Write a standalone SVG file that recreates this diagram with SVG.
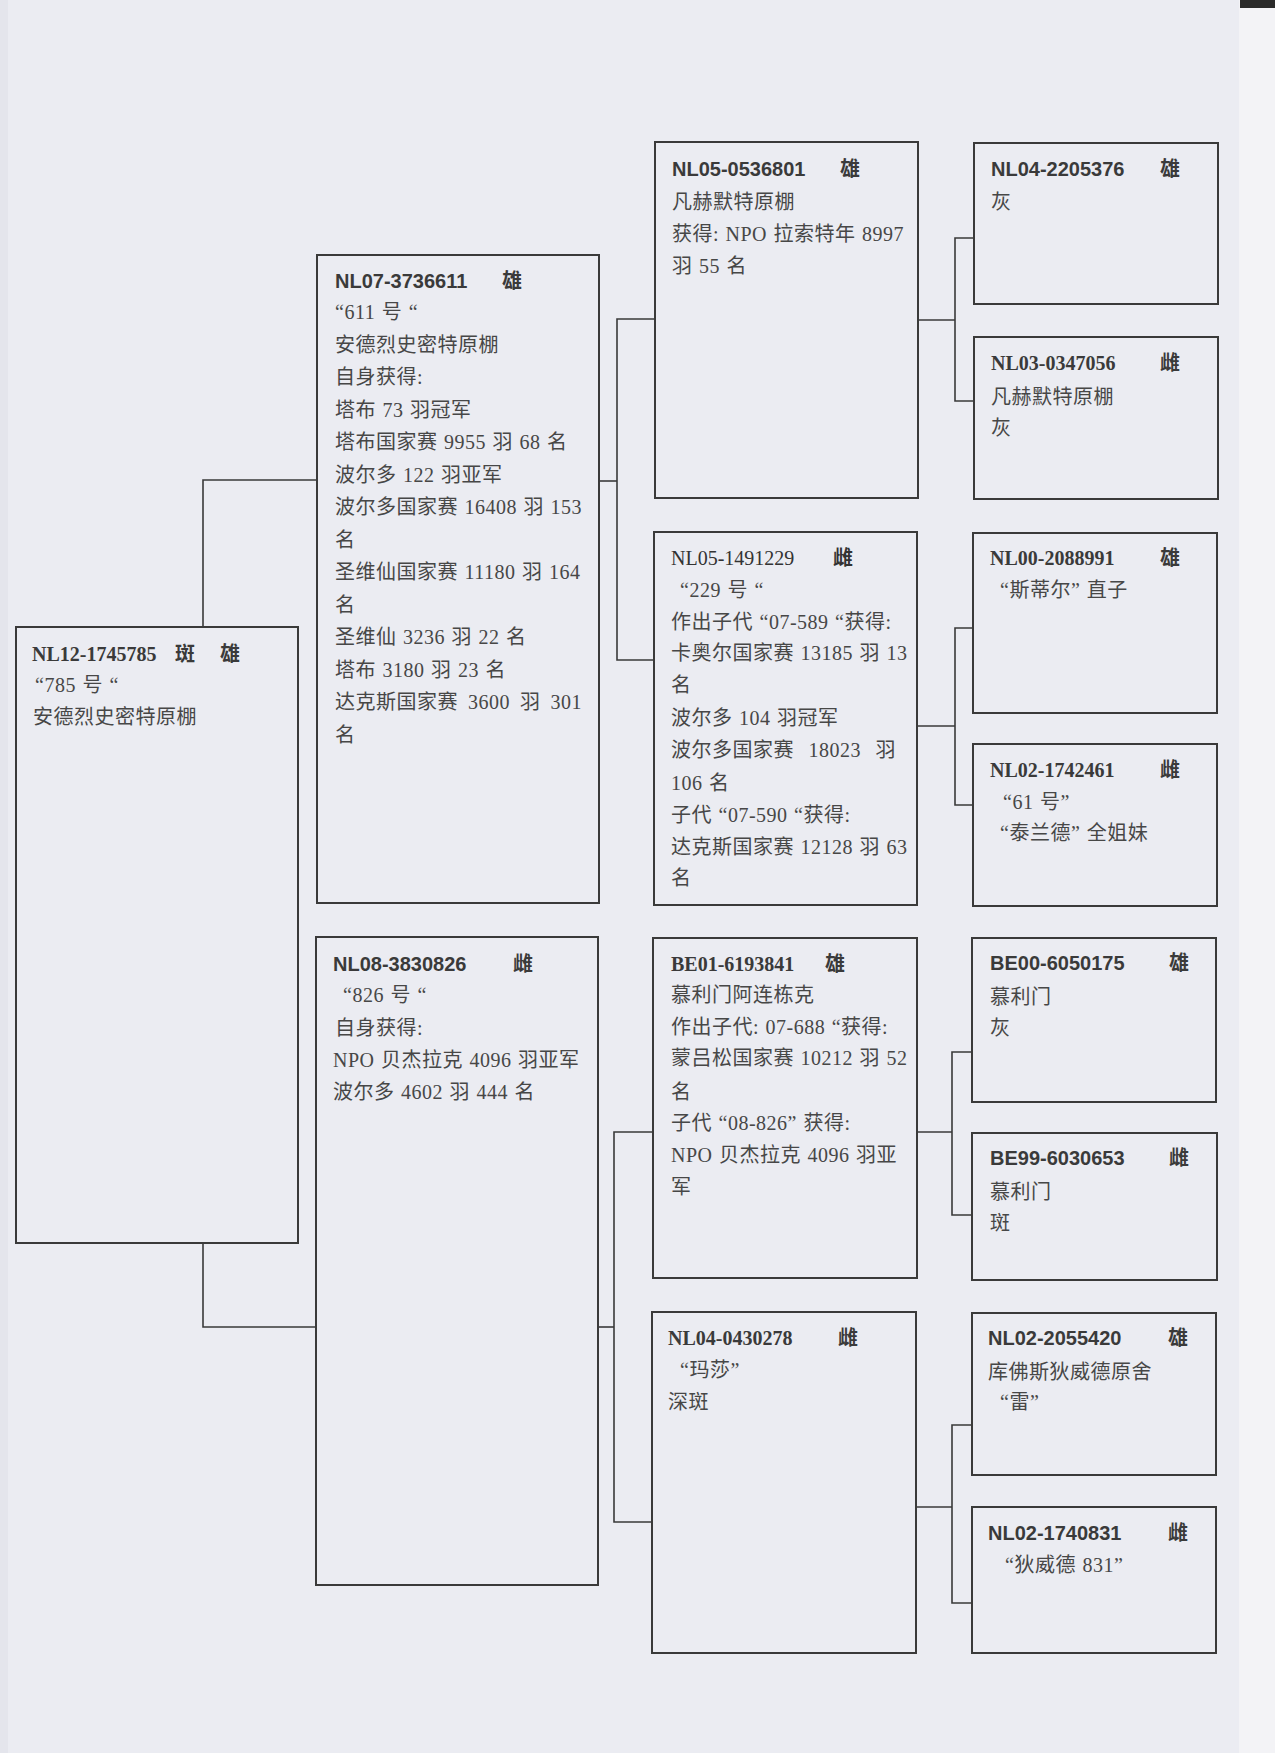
<svg xmlns="http://www.w3.org/2000/svg" width="1275" height="1753" viewBox="0 0 1275 1753">
<style>
.box{fill:none;stroke:#3a3a3a;stroke-width:2}
.ln{fill:none;stroke:#3a3a3a;stroke-width:1.6}
.t{font-family:"Liberation Serif","Noto Sans CJK SC",serif;font-size:20px;fill:#474747;letter-spacing:0.5px;word-spacing:1px}
.w{word-spacing:4.5px}
.w2{word-spacing:9px}
.hs{font-family:"Liberation Sans","Noto Sans CJK SC",sans-serif;font-size:20px;font-weight:bold;fill:#3a3a3a}
.hb{font-family:"Liberation Serif","Noto Sans CJK SC",serif;font-size:20px;font-weight:bold;fill:#3a3a3a}
.hm{font-family:"Liberation Serif","Noto Sans CJK SC",serif;font-size:20px;fill:#333}
.sx{font-family:"Noto Sans CJK SC",sans-serif;font-weight:bold}
</style>
<rect x="0" y="0" width="1275" height="1753" fill="#ebecf2"/>
<rect x="1239" y="0" width="36" height="1753" fill="#f3f3f6"/>
<rect x="0" y="0" width="8" height="1753" fill="#e4e5ec"/>
<rect x="1240" y="0" width="35" height="8" fill="#2a2a2a"/>

<g id="connectors">
<path class="ln" d="M203,627 V480 H317"/>
<path class="ln" d="M203,1243 V1327 H316"/>
<path class="ln" d="M599,481 H617"/>
<path class="ln" d="M655,319 H617 V660 H654"/>
<path class="ln" d="M598,1327 H614"/>
<path class="ln" d="M653,1132 H614 V1522 H652"/>
<path class="ln" d="M918,320 H955"/>
<path class="ln" d="M974,238 H955 V401 H974"/>
<path class="ln" d="M917,726 H955"/>
<path class="ln" d="M973,628 H955 V805 H973"/>
<path class="ln" d="M917,1132 H952"/>
<path class="ln" d="M972,1052 H952 V1215 H972"/>
<path class="ln" d="M916,1507 H952"/>
<path class="ln" d="M972,1425 H952 V1603 H972"/>
</g>

<g id="n-root">
<rect class="box" x="16" y="627" width="282" height="616"/>
<text class="hb" x="32" y="661">NL12-1745785</text>
<text class="hb sx" x="175" y="661">斑</text>
<text class="hb sx" x="220" y="661">雄</text>
<text class="t" x="35" y="692">“785 号 “</text>
<text class="t" x="33" y="724">安德烈史密特原棚</text>
</g>

<g id="n-nl07">
<rect class="box" x="317" y="255" width="282" height="648"/>
<text class="hs" x="335" y="288">NL07-3736611</text>
<text class="hs sx" x="502" y="288">雄</text>
<text class="t" x="335" y="319">“611 号 “</text>
<text class="t" x="335" y="352">安德烈史密特原棚</text>
<text class="t" x="335" y="384">自身获得:</text>
<text class="t" x="335" y="417">塔布 73 羽冠军</text>
<text class="t" x="335" y="449">塔布国家赛 9955 羽 68 名</text>
<text class="t" x="335" y="482">波尔多 122 羽亚军</text>
<text class="t" x="335" y="514">波尔多国家赛 16408 羽 153</text>
<text class="t" x="335" y="547">名</text>
<text class="t" x="335" y="579">圣维仙国家赛 11180 羽 164</text>
<text class="t" x="335" y="612">名</text>
<text class="t" x="335" y="644">圣维仙 3236 羽 22 名</text>
<text class="t" x="335" y="677">塔布 3180 羽 23 名</text>
<text class="t w" x="335" y="709">达克斯国家赛 3600 羽 301</text>
<text class="t" x="335" y="742">名</text>
</g>

<g id="n-nl08">
<rect class="box" x="316" y="937" width="282" height="648"/>
<text class="hs" x="333" y="971">NL08-3830826</text>
<text class="hs sx" x="513" y="971">雌</text>
<text class="t" x="343" y="1002">“826 号 “</text>
<text class="t" x="335" y="1035">自身获得:</text>
<text class="t" x="333" y="1067">NPO 贝杰拉克 4096 羽亚军</text>
<text class="t" x="333" y="1099">波尔多 4602 羽 444 名</text>
</g>

<g id="n-nl05a">
<rect class="box" x="655" y="142" width="263" height="356"/>
<text class="hs" x="672" y="176">NL05-0536801</text>
<text class="hs sx" x="840" y="176">雄</text>
<text class="t" x="672" y="209">凡赫默特原棚</text>
<text class="t" x="672" y="241">获得: NPO 拉索特年 8997</text>
<text class="t" x="672" y="273">羽 55 名</text>
</g>

<g id="n-nl05b">
<rect class="box" x="654" y="532" width="263" height="373"/>
<text class="hm" x="671" y="565">NL05-1491229</text>
<text class="hm sx" x="833" y="565">雌</text>
<text class="t" x="680" y="597">“229 号 “</text>
<text class="t" x="671" y="629">作出子代 “07-589 “获得:</text>
<text class="t" x="671" y="660">卡奥尔国家赛 13185 羽 13</text>
<text class="t" x="671" y="692">名</text>
<text class="t" x="671" y="725">波尔多 104 羽冠军</text>
<text class="t w2" x="671" y="757">波尔多国家赛 18023 羽</text>
<text class="t" x="671" y="790">106 名</text>
<text class="t" x="671" y="822">子代 “07-590 “获得:</text>
<text class="t" x="671" y="854">达克斯国家赛 12128 羽 63</text>
<text class="t" x="671" y="885">名</text>
</g>

<g id="n-be01">
<rect class="box" x="653" y="938" width="264" height="340"/>
<text class="hb" x="671" y="971">BE01-6193841</text>
<text class="hb sx" x="825" y="971">雄</text>
<text class="t" x="671" y="1002">慕利门阿连栋克</text>
<text class="t" x="671" y="1034">作出子代: 07-688 “获得:</text>
<text class="t" x="671" y="1065">蒙吕松国家赛 10212 羽 52</text>
<text class="t" x="671" y="1099">名</text>
<text class="t" x="671" y="1130">子代 “08-826” 获得:</text>
<text class="t" x="671" y="1162">NPO 贝杰拉克 4096 羽亚</text>
<text class="t" x="671" y="1194">军</text>
</g>

<g id="n-nl04a">
<rect class="box" x="652" y="1312" width="264" height="341"/>
<text class="hb" x="668" y="1345">NL04-0430278</text>
<text class="hb sx" x="838" y="1345">雌</text>
<text class="t" x="680" y="1377">“玛莎”</text>
<text class="t" x="668" y="1409">深斑</text>
</g>

<g id="n-nl04b">
<rect class="box" x="974" y="143" width="244" height="161"/>
<text class="hs" x="991" y="176">NL04-2205376</text>
<text class="hs sx" x="1160" y="176">雄</text>
<text class="t" x="991" y="209">灰</text>
</g>

<g id="n-nl03">
<rect class="box" x="974" y="337" width="244" height="162"/>
<text class="hb" x="991" y="370">NL03-0347056</text>
<text class="hb sx" x="1160" y="370">雌</text>
<text class="t" x="991" y="404">凡赫默特原棚</text>
<text class="t" x="991" y="435">灰</text>
</g>

<g id="n-nl00">
<rect class="box" x="973" y="533" width="244" height="180"/>
<text class="hb" x="990" y="565">NL00-2088991</text>
<text class="hb sx" x="1160" y="565">雄</text>
<text class="t" x="1000" y="597">“斯蒂尔” 直子</text>
</g>

<g id="n-nl02a">
<rect class="box" x="973" y="744" width="244" height="162"/>
<text class="hb" x="990" y="777">NL02-1742461</text>
<text class="hb sx" x="1160" y="777">雌</text>
<text class="t" x="1003" y="809">“61 号”</text>
<text class="t" x="1000" y="840">“泰兰德” 全姐妹</text>
</g>

<g id="n-be00">
<rect class="box" x="972" y="938" width="244" height="164"/>
<text class="hs" x="990" y="970">BE00-6050175</text>
<text class="hs sx" x="1169" y="970">雄</text>
<text class="t" x="990" y="1004">慕利门</text>
<text class="t" x="990" y="1035">灰</text>
</g>

<g id="n-be99">
<rect class="box" x="972" y="1133" width="245" height="147"/>
<text class="hs" x="990" y="1165">BE99-6030653</text>
<text class="hs sx" x="1169" y="1165">雌</text>
<text class="t" x="990" y="1199">慕利门</text>
<text class="t" x="990" y="1230">斑</text>
</g>

<g id="n-nl02b">
<rect class="box" x="972" y="1313" width="244" height="162"/>
<text class="hs" x="988" y="1345">NL02-2055420</text>
<text class="hs sx" x="1168" y="1345">雄</text>
<text class="t" x="988" y="1379">库佛斯狄威德原舍</text>
<text class="t" x="1000" y="1409">“雷”</text>
</g>

<g id="n-nl02c">
<rect class="box" x="972" y="1507" width="244" height="146"/>
<text class="hs" x="988" y="1540">NL02-1740831</text>
<text class="hs sx" x="1168" y="1540">雌</text>
<text class="t" x="1005" y="1572">“狄威德 831”</text>
</g>
</svg>
